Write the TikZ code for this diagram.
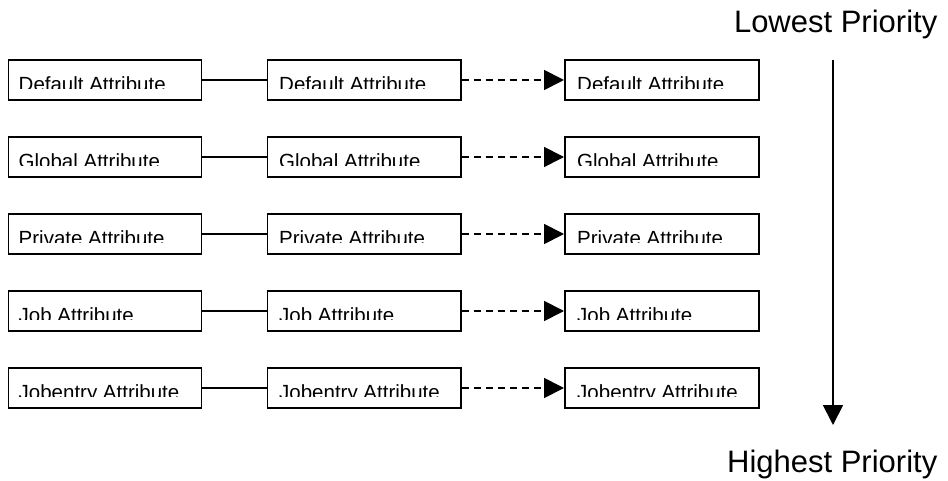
\documentclass[tikz,border=0pt]{standalone}
\usepackage{fontspec}
\setmainfont{Liberation Sans}
\usetikzlibrary{arrows.meta}
\begin{document}
\begin{tikzpicture}[x=1pt,y=-1pt,
  attrbox/.style={draw,line width=1.8pt,minimum height=40pt,inner sep=0pt,anchor=west},
  attrtext/.style={inner sep=0pt,anchor=base west,font=\fontsize{20.5}{22}\selectfont},
  prio/.style={inner sep=0pt,anchor=base east,font=\fontsize{31}{34}\selectfont},
  link/.style={line width=1.8pt},
  dlink/.style={line width=1.8pt,dash pattern=on 7pt off 5pt,-{Triangle[length=20pt,width=20pt]}}]
\useasboundingbox (0,0) rectangle (948,481);
\foreach \t/\yy [count=\i] in {Default Attribute/80,Global Attribute/157,Private Attribute/234,Job Attribute/311,Jobentry Attribute/388}{
  \node[attrbox,minimum width=193pt] (a\i) at (7.5,\yy) {};
  \node[attrbox,minimum width=193.5pt] (b\i) at (266.5,\yy) {};
  \node[attrbox,minimum width=194pt] (c\i) at (564,\yy) {};
  \draw[link] (a\i) -- (b\i);
  \draw[dlink] (b\i) -- (c\i);
  \begin{scope}
    \clip (0,\yy-19) rectangle (948,\yy+8.8);
    \node[attrtext] (ta\i) at (18.5,\yy+11.8) {\t};
    \node[attrtext] (tb\i) at (279,\yy+11.8) {\t};
    \node[attrtext] (tc\i) at (577,\yy+11.8) {\t};
  \end{scope}
}
\node[prio] (low) at (937.5,33) {Lowest Priority};
\node[prio] (high) at (937.5,472) {Highest Priority};
\coordinate (ptop) at (833,60);
\coordinate (pbot) at (833,425);
\draw[line width=1.8pt,-{Triangle[length=20pt,width=20pt]}] (ptop) -- (pbot);
\end{tikzpicture}
\end{document}
